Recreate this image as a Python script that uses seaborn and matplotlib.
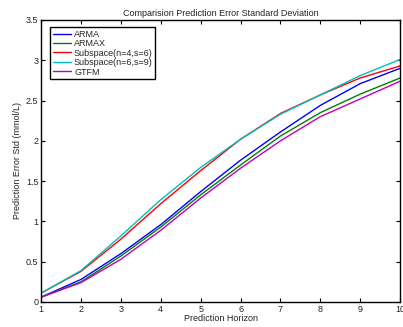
import matplotlib
matplotlib.use("Agg")
import matplotlib.pyplot as plt
import seaborn as sns
import pandas as pd

horizon = [1, 2, 3, 4, 5, 6, 7, 8, 9, 10]
arma = [0.06, 0.28, 0.60, 0.96, 1.37, 1.76, 2.11, 2.44, 2.71, 2.90]
armax = [0.06, 0.25, 0.57, 0.93, 1.33, 1.70, 2.06, 2.35, 2.58, 2.78]
sub46 = [0.11, 0.38, 0.78, 1.22, 1.63, 2.02, 2.34, 2.57, 2.78, 2.93]
sub69 = [0.11, 0.39, 0.82, 1.27, 1.67, 2.02, 2.33, 2.57, 2.81, 3.01]
gtfm = [0.06, 0.24, 0.53, 0.89, 1.29, 1.66, 2.00, 2.30, 2.52, 2.74]

names = ["ARMA", "ARMAX", "Subspace(n=4,s=6)", "Subspace(n=6,s=9)", "GTFM"]
series = [arma, armax, sub46, sub69, gtfm]
colors = ["#0000ff", "#008000", "#ff0000", "#00bfbf", "#bf00bf"]

rows = []
for n, s in zip(names, series):
    for x, y in zip(horizon, s):
        rows.append({"Horizon": x, "Std": y, "Method": n})
df = pd.DataFrame(rows)

sns.set_style("ticks")
plt.rcParams["font.family"] = ["Liberation Sans", "DejaVu Sans"]
fig = plt.figure(figsize=(4.03, 3.27), dpi=100)
ax = fig.add_axes([0.102, 0.0765, 0.891, 0.8625])
sns.lineplot(data=df, x="Horizon", y="Std", hue="Method", palette=dict(zip(names, colors)),
             hue_order=names, linewidth=1.0, ax=ax)
ax.set_xlim(1, 10)
ax.set_ylim(0, 3.5)
ax.set_xticks(horizon)
ax.set_yticks([0, 0.5, 1, 1.5, 2, 2.5, 3, 3.5])
ax.set_yticklabels(["0", "0.5", "1", "1.5", "2", "2.5", "3", "3.5"])
ax.tick_params(direction="in", top=True, right=True, labelsize=6.5, length=3, width=0.8, pad=2,
               colors="black", labelcolor="#222222")
for sp in ax.spines.values():
    sp.set_linewidth(1.0)
    sp.set_color("black")
ax.set_xlabel("Prediction Horizon", fontsize=6.5, labelpad=0, color="#222222")
ax.set_ylabel("Prediction Error Std (mmol/L)", fontsize=6.5, labelpad=3, color="#222222")
ax.set_title("Comparision Prediction Error Standard Deviation", fontsize=6.5, pad=3, color="#222222")
leg = ax.legend(loc="upper left", fontsize=6.5, frameon=True, fancybox=False,
                edgecolor="black", handlelength=2.0, borderpad=0.3, labelspacing=0.05,
                handletextpad=0.35, borderaxespad=0.0, bbox_to_anchor=(0.025, 0.975))
leg.get_frame().set_linewidth(1.0)
leg.get_frame().set_alpha(1)
fig.savefig("out.png", dpi=100)
